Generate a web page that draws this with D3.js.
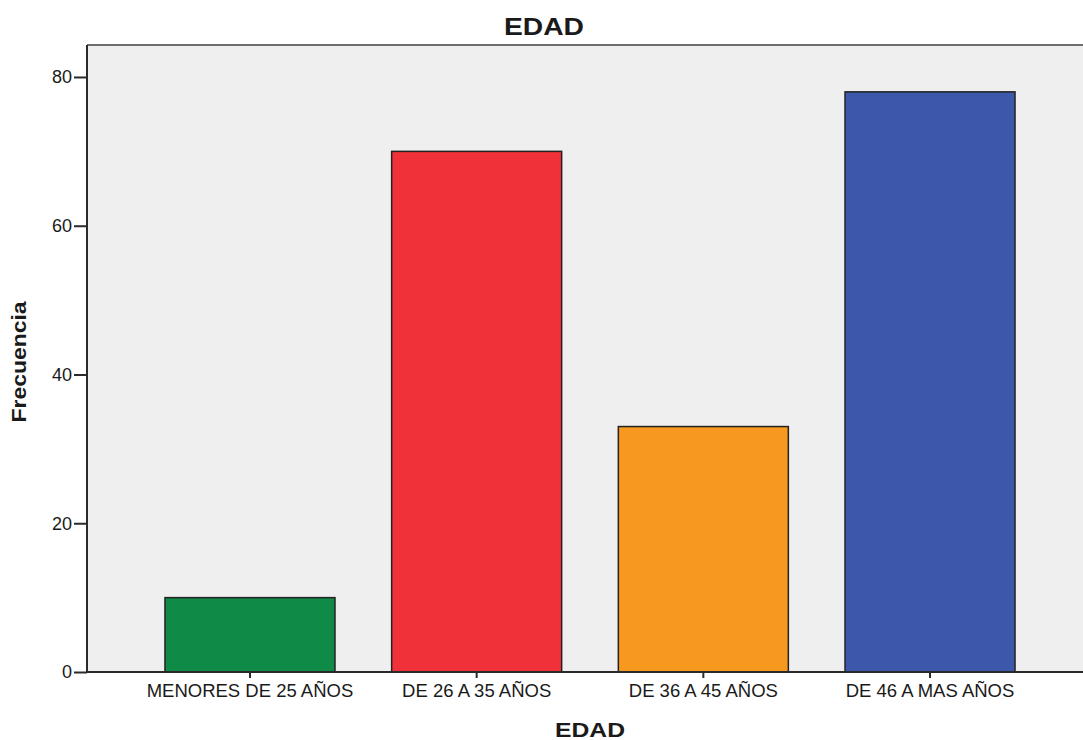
<!DOCTYPE html>
<html>
<head>
<meta charset="utf-8">
<script src="https://cdn.jsdelivr.net/npm/d3@7"></script>
<style>
  html, body { margin: 0; padding: 0; background: #ffffff; overflow: hidden; }
  svg { display: block; }
  text { font-family: "Liberation Sans", Arial, sans-serif; fill: #1a1a1a; }
</style>
</head>
<body>
<svg id="chart" width="1083" height="740"></svg>
<script>
const categories = ["MENORES DE 25 AÑOS", "DE 26 A 35 AÑOS", "DE 36 A 45 AÑOS", "DE 46 A MAS AÑOS"];
const values = [10, 70, 33, 78];
const barColors = ["#108b47", "#f0313a", "#f7981f", "#3d58aa"];
const yTicks = [0, 20, 40, 60, 80];
const chartTitle = "EDAD";
const xTitle = "EDAD";
const yTitle = "Frecuencia";

const svg = d3.select("#chart");
const m = { left: 87, top: 45, right: 1093, bottom: 672 };

const x = d3.scaleBand().domain(categories).range([m.left, m.right])
  .paddingInner(0.25).paddingOuter(0.344);
const y = d3.scaleLinear().domain([0, 84.3]).range([m.bottom, m.top]);

// plot background
svg.append("rect")
  .attr("x", m.left).attr("y", m.top)
  .attr("width", m.right - m.left).attr("height", m.bottom - m.top)
  .attr("fill", "#efefef");

// top frame line
svg.append("line")
  .attr("x1", m.left).attr("x2", m.right)
  .attr("y1", m.top).attr("y2", m.top)
  .attr("stroke", "#6e6e6e").attr("stroke-width", 2);

// bars
svg.append("g").selectAll("rect").data(values).join("rect")
  .attr("x", (d, i) => x(categories[i]))
  .attr("y", d => y(d))
  .attr("width", x.bandwidth())
  .attr("height", d => y(0) - y(d))
  .attr("fill", (d, i) => barColors[i])
  .attr("stroke", "#222222").attr("stroke-width", 1.5);

// y axis
const yAxis = d3.axisLeft(y).tickValues(yTicks).tickSize(13).tickPadding(2).tickFormat(d3.format("d"));
const gy = svg.append("g").attr("transform", `translate(${m.left},0)`).call(yAxis);
gy.select(".domain").attr("stroke", "#2a2a2a").attr("stroke-width", 2)
  .attr("d", `M0,${m.top}V${m.bottom}`);
gy.selectAll(".tick line").attr("stroke", "#2a2a2a").attr("stroke-width", 2);
gy.selectAll(".tick text").style("font-size", "18px").attr("fill", "#1a1a1a")
  .style("font-family", "'Liberation Sans', Arial, sans-serif");

// x axis
const xAxis = d3.axisBottom(x).tickSize(6).tickPadding(6).tickSizeOuter(0);
const gx = svg.append("g").attr("transform", `translate(0,${m.bottom})`).call(xAxis);
gx.select(".domain").attr("stroke", "#2a2a2a").attr("stroke-width", 2)
  .attr("d", `M${m.left},0H${m.right}`);
gx.selectAll(".tick line").attr("stroke", "#2a2a2a").attr("stroke-width", 2);
gx.selectAll(".tick text").style("font-size", "18.5px").attr("fill", "#1a1a1a")
  .style("font-family", "'Liberation Sans', Arial, sans-serif");

// titles
svg.append("text").attr("x", 544).attr("y", 35)
  .attr("text-anchor", "middle").style("font-size", "24px").style("font-weight", "bold")
  .attr("textLength", 80).attr("lengthAdjust", "spacingAndGlyphs")
  .text(chartTitle);

svg.append("text").attr("x", 590).attr("y", 737)
  .attr("text-anchor", "middle").style("font-size", "21px").style("font-weight", "bold")
  .attr("textLength", 70).attr("lengthAdjust", "spacingAndGlyphs")
  .text(xTitle);

svg.append("text").attr("transform", "translate(26,362) rotate(-90)")
  .attr("text-anchor", "middle").style("font-size", "21px").style("font-weight", "bold")
  .attr("textLength", 121).attr("lengthAdjust", "spacingAndGlyphs")
  .text(yTitle);
</script>
</body>
</html>
